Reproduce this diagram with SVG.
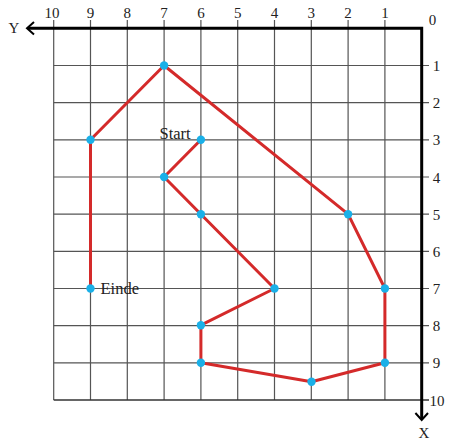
<svg xmlns="http://www.w3.org/2000/svg" width="449" height="441" viewBox="0 0 449 441">
<style>
.grid{stroke:#555;stroke-width:1.2;fill:none}
.axis{stroke:#000;stroke-width:3;fill:none}
.lbl{font-family:"Liberation Serif",serif;font-size:15px;fill:#222}
.route{stroke:#d42a2a;stroke-width:3;fill:none;stroke-linejoin:round}
.pt{fill:#1ab0e8}
</style>
<rect width="449" height="441" fill="#fff"/>
<g id="grid">
<path class="grid" d="M53.7 20V400M90.5 20V400M127.3 20V400M164.1 20V400M200.9 20V400M237.7 20V400M274.5 20V400M311.3 20V400M348.1 20V400M384.9 20V400"/>
<path class="grid" d="M53.7 65.5H429M53.7 102.6H429M53.7 139.8H429M53.7 177H429M53.7 214.2H429M53.7 251.3H429M53.7 288.5H429M53.7 325.7H429M53.7 362.8H429"/>
<path d="M53.7 400H429" stroke="#333" stroke-width="1.6"/>
</g>
<g id="axes">
<path class="axis" d="M28 28.3H421.7V419"/>
<path d="M34 22L27 28.3L34 34.6" stroke="#000" stroke-width="2" fill="none"/>
<path d="M415.4 413L421.7 420L428 413" stroke="#000" stroke-width="2" fill="none"/>
<text class="lbl" x="14" y="33" font-size="17" text-anchor="middle">Y</text>
<text class="lbl" x="424" y="438" font-size="17" text-anchor="middle">X</text>
</g>
<g id="top-labels" class="lbl" text-anchor="middle">
<text x="52" y="17.5">10</text><text x="90.5" y="17.5">9</text><text x="127.3" y="17.5">8</text><text x="164.1" y="17.5">7</text><text x="200.9" y="17.5">6</text><text x="237.7" y="17.5">5</text><text x="274.5" y="17.5">4</text><text x="311.3" y="17.5">3</text><text x="348.1" y="17.5">2</text><text x="384.9" y="17.5">1</text><text x="432.5" y="25">0</text>
</g>
<g id="right-labels" class="lbl" text-anchor="middle">
<text x="436.5" y="71">1</text><text x="436.5" y="108">2</text><text x="436.5" y="145.3">3</text><text x="436.5" y="182.5">4</text><text x="436.5" y="219.7">5</text><text x="436.5" y="256.8">6</text><text x="436.5" y="294">7</text><text x="436.5" y="331.2">8</text><text x="436.5" y="368.3">9</text><text x="437" y="405.5">10</text>
</g>
<g id="connectors">
<polyline class="route" points="200.9,139.8 164.1,177 200.9,214.2 274.5,288.5 200.9,325.2 200.9,362.8 311.5,381.8 384.9,362.8 384.9,288.5 348.1,214.2 164.1,65.5 90.5,139.8 90.5,288.5"/>
</g>
<g id="points">
<circle class="pt" cx="200.9" cy="139.8" r="4.2"/>
<circle class="pt" cx="164.1" cy="177" r="4.2"/>
<circle class="pt" cx="200.9" cy="214.2" r="4.2"/>
<circle class="pt" cx="274.5" cy="288.5" r="4.2"/>
<circle class="pt" cx="200.9" cy="325.2" r="4.2"/>
<circle class="pt" cx="200.9" cy="362.8" r="4.2"/>
<circle class="pt" cx="311.5" cy="381.8" r="4.2"/>
<circle class="pt" cx="384.9" cy="362.8" r="4.2"/>
<circle class="pt" cx="384.9" cy="288.5" r="4.2"/>
<circle class="pt" cx="348.1" cy="214.2" r="4.2"/>
<circle class="pt" cx="164.1" cy="65.5" r="4.2"/>
<circle class="pt" cx="90.5" cy="139.8" r="4.2"/>
<circle class="pt" cx="90.5" cy="288.5" r="4.2"/>
</g>
<g id="labels" class="lbl" font-size="16.5">
<text x="159.5" y="138.5" font-size="16.5">Start</text>
<text x="100.5" y="294" font-size="16.5">Einde</text>
</g>
</svg>
